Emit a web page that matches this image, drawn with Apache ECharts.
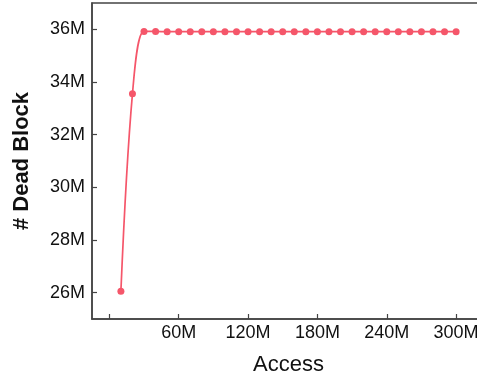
<!DOCTYPE html>
<html><head><meta charset="utf-8">
<script src="https://cdn.jsdelivr.net/npm/echarts@6/dist/echarts.min.js"></script>
<style>html,body{margin:0;padding:0;background:#fff}#c{width:477px;height:381px}</style>
</head><body><div id="c"></div>
<script>
// Access (millions)
var accessM = [10,20,30,40,50,60,70,80,90,100,110,120,130,140,150,160,170,180,190,200,210,220,230,240,250,260,270,280,290,300];
// Dead blocks (millions)
var deadBlockM = [26.05,33.55,35.92,35.92,35.91,35.91,35.91,35.91,35.91,35.91,35.91,35.91,35.91,35.91,35.91,35.91,35.91,35.91,35.91,35.91,35.91,35.91,35.91,35.91,35.91,35.91,35.91,35.91,35.91,35.91];
var xTicks = [0,60,120,180,240,300];
var xLabels = [60,120,180,240,300];
var yTicks = [26,28,30,32,34,36];

var data = accessM.map(function(x,i){return [x, deadBlockM[i]];});
var chart = echarts.init(document.getElementById('c'));
var font = 'Liberation Sans, Arial, sans-serif';
chart.setOption({
  animation:false,
  grid:{left:92,top:3,width:393,height:316,outerBoundsMode:'none',containLabel:false,show:true,borderColor:'#444',borderWidth:1.5},
  xAxis:{type:'value',min:-15,max:325,
    name:'Access',nameLocation:'middle',nameGap:35,
    nameTextStyle:{fontFamily:font,fontSize:22,color:'#111'},
    axisLine:{show:true,onZero:false,lineStyle:{color:'#444',width:1.5}},
    axisTick:{show:true,inside:true,length:5,customValues:xTicks,lineStyle:{color:'#444',width:1.2}},
    axisLabel:{customValues:xLabels,formatter:function(v){return v+'M';},fontFamily:font,fontSize:18,color:'#111',margin:5},
    splitLine:{show:false}},
  yAxis:{type:'value',min:25,max:37,
    name:'# Dead Block',nameLocation:'middle',nameGap:59,
    nameTextStyle:{fontFamily:font,fontSize:22,fontWeight:'bold',color:'#111'},
    axisLine:{show:true,onZero:false,lineStyle:{color:'#444',width:1.5}},
    axisTick:{show:true,inside:true,length:5,customValues:yTicks,lineStyle:{color:'#444',width:1.2}},
    axisLabel:{customValues:yTicks,formatter:function(v){return v+'M';},fontFamily:font,fontSize:18,color:'#111',margin:7},
    splitLine:{show:false}},
  series:[{type:'line',data:data,smooth:0.35,symbol:'circle',symbolSize:7,
    itemStyle:{color:'#F5566A'},lineStyle:{color:'#F5566A',width:1.7}}]
});
</script></body></html>
